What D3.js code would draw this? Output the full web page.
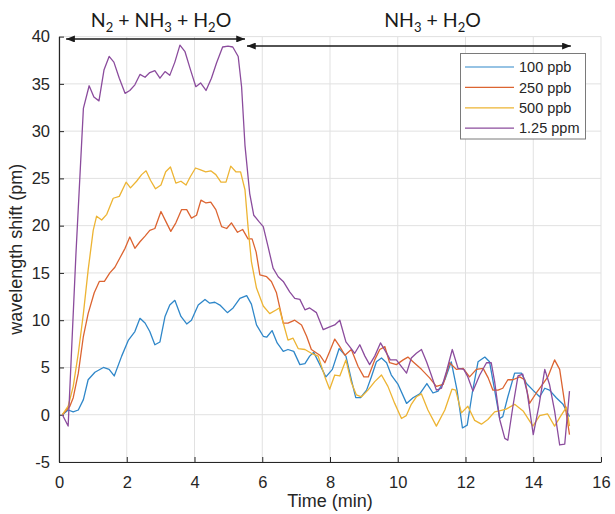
<!DOCTYPE html>
<html>
<head>
<meta charset="utf-8">
<script src="https://cdn.jsdelivr.net/npm/d3@7"></script>
<style>
  body { margin: 0; background: #fff; }
  svg { display: block; }
</style>
</head>
<body>
<svg id="chart" width="615" height="514"></svg>
<script>
  // series: [time (min), wavelength shift (pm)]
  const ppb100 = [[0.1,0],[0.27,0.5],[0.42,0.3],[0.57,0.5],[0.72,1.6],[0.86,3.7],[1.06,4.5],[1.31,5.0],[1.48,4.8],[1.63,4.1],[1.85,6.2],[2.05,7.9],[2.24,8.8],[2.39,10.2],[2.54,9.7],[2.68,8.8],[2.83,7.4],[2.98,7.7],[3.13,10.4],[3.27,11.6],[3.42,12.1],[3.6,10.4],[3.77,9.6],[3.91,10.0],[4.11,11.6],[4.31,12.2],[4.45,11.8],[4.6,11.9],[4.75,11.6],[4.97,10.8],[5.14,11.3],[5.34,12.3],[5.54,12.6],[5.68,11.7],[5.83,9.5],[6.03,8.3],[6.13,8.2],[6.29,8.9],[6.44,7.6],[6.62,6.7],[6.76,6.9],[6.93,6.7],[7.11,5.3],[7.26,5.4],[7.4,6.2],[7.52,6.6],[7.7,5.3],[7.88,4.0],[8.07,4.8],[8.27,7.0],[8.47,6.2],[8.63,3.7],[8.76,1.8],[8.9,1.8],[9.08,2.6],[9.22,4.0],[9.37,5.6],[9.52,6.0],[9.67,5.5],[9.81,4.2],[10.01,3.2],[10.26,1.2],[10.45,1.8],[10.65,2.2],[10.86,3.3],[11.04,2.3],[11.19,2.5],[11.39,3.7],[11.58,5.6],[11.75,2.6],[11.91,-1.4],[12.05,-1.1],[12.2,2.3],[12.37,5.6],[12.57,6.1],[12.71,5.6],[12.86,2.6],[13.01,-0.4],[13.1,-0.2],[13.25,1.9],[13.45,4.4],[13.65,4.4],[13.8,3.3],[13.99,2.6],[14.19,1.9],[14.34,2.8],[14.48,2.6],[14.68,1.8],[14.88,1.1],[15.07,-0.2]];

  const ppb250 = [[0.1,0],[0.32,0.9],[0.42,1.8],[0.57,4.4],[0.72,8.3],[0.86,10.7],[1.04,12.9],[1.19,14.1],[1.34,14.1],[1.5,15.0],[1.65,15.6],[1.8,16.6],[1.95,17.6],[2.09,18.8],[2.24,17.6],[2.39,18.3],[2.54,18.9],[2.68,19.5],[2.83,19.7],[3.01,21.5],[3.16,20.4],[3.3,19.4],[3.45,20.3],[3.62,21.7],[3.77,21.7],[3.91,20.8],[4.06,21.1],[4.19,22.7],[4.34,22.4],[4.48,22.5],[4.63,21.7],[4.8,19.9],[4.95,19.7],[5.09,20.3],[5.27,19.3],[5.42,19.6],[5.58,18.6],[5.7,18.6],[5.82,17.2],[5.93,14.8],[6.13,14.6],[6.27,14.1],[6.42,12.9],[6.62,9.7],[6.76,9.7],[6.96,10.0],[7.16,9.5],[7.31,8.3],[7.45,6.9],[7.7,6.3],[7.85,5.5],[7.99,6.7],[8.14,8.0],[8.29,7.2],[8.44,6.3],[8.63,6.9],[8.83,5.1],[9.0,4.0],[9.13,4.0],[9.32,5.8],[9.47,6.9],[9.62,7.2],[9.76,5.5],[9.96,5.3],[10.16,5.8],[10.3,6.1],[10.45,5.6],[10.7,4.8],[10.94,3.9],[11.14,3.0],[11.34,3.2],[11.53,5.5],[11.73,4.8],[11.93,4.9],[12.12,4.0],[12.32,4.8],[12.52,4.9],[12.67,3.9],[12.81,2.6],[12.96,2.6],[13.1,2.8],[13.25,3.7],[13.4,3.7],[13.6,4.0],[13.75,3.7],[13.89,1.2],[14.09,2.3],[14.29,3.3],[14.43,4.0],[14.63,5.8],[14.78,4.8],[14.93,1.2],[15.07,-2.1]];

  const ppb500 = [[0.1,0],[0.27,0.9],[0.42,3.0],[0.57,6.5],[0.72,10.7],[0.86,15.3],[1.01,19.5],[1.11,21.0],[1.26,20.6],[1.41,21.2],[1.6,22.9],[1.78,23.1],[1.98,24.6],[2.11,24.0],[2.29,24.7],[2.44,25.4],[2.57,25.8],[2.7,24.8],[2.85,23.9],[3.01,24.3],[3.15,25.7],[3.29,26.2],[3.45,24.5],[3.6,24.7],[3.75,24.3],[3.88,25.2],[4.03,26.1],[4.18,25.9],[4.33,25.7],[4.48,25.8],[4.63,25.4],[4.78,24.6],[4.93,24.6],[5.07,26.3],[5.22,25.7],[5.36,25.7],[5.49,23.8],[5.58,19.9],[5.68,16.2],[5.83,13.4],[6.03,11.5],[6.22,10.7],[6.42,11.1],[6.5,11.3],[6.62,9.7],[6.76,7.9],[6.91,8.1],[7.06,7.0],[7.26,6.9],[7.45,6.5],[7.65,6.2],[7.85,4.0],[7.99,2.7],[8.14,4.2],[8.29,4.1],[8.47,5.8],[8.63,3.4],[8.78,2.1],[8.93,1.9],[9.12,2.6],[9.32,3.5],[9.52,4.2],[9.71,3.0],[9.91,1.2],[10.11,-0.4],[10.25,-0.1],[10.4,1.1],[10.55,1.9],[10.7,2.2],[10.89,0.5],[11.14,-1.2],[11.39,0.5],[11.6,2.7],[11.71,2.6],[11.88,0.2],[12.07,0.9],[12.27,-0.6],[12.47,-1.0],[12.66,-0.5],[12.86,0.3],[13.0,0.4],[13.2,0.6],[13.45,1.1],[13.7,0.4],[13.99,-1.2],[14.19,-0.1],[14.42,0.1],[14.63,-1.2],[14.8,-0.2],[14.98,0.8],[15.07,-1.2]];

  const ppm125 = [[0.1,0],[0.27,-1.2],[0.5,17],[0.72,32.4],[0.89,34.8],[1.03,33.6],[1.18,33.2],[1.33,36.5],[1.48,37.9],[1.62,37.3],[1.78,35.6],[1.95,34.0],[2.09,34.3],[2.24,34.9],[2.39,36.0],[2.54,35.7],[2.68,36.2],[2.83,36.4],[2.98,35.6],[3.13,36.3],[3.27,35.9],[3.42,37.3],[3.57,39.1],[3.72,38.4],[3.88,36.5],[4.04,34.7],[4.18,35.1],[4.34,34.3],[4.5,35.6],[4.65,37.2],[4.83,38.9],[4.99,39.0],[5.13,38.9],[5.29,37.9],[5.39,34.7],[5.49,28.5],[5.63,23.4],[5.75,21.1],[5.91,20.4],[6.03,19.9],[6.17,17.8],[6.32,15.5],[6.47,14.6],[6.62,14.1],[6.81,13.0],[6.96,12.3],[7.11,12.2],[7.26,11.1],[7.4,11.3],[7.6,10.8],[7.8,9.0],[7.99,9.3],[8.14,9.5],[8.29,10.0],[8.47,7.7],[8.58,7.2],[8.73,6.5],[8.88,7.4],[9.03,6.2],[9.17,5.3],[9.32,6.2],[9.49,7.6],[9.64,6.7],[9.78,5.8],[9.96,5.8],[10.11,5.1],[10.26,4.4],[10.4,6.0],[10.55,6.5],[10.7,6.9],[10.85,5.6],[10.99,4.2],[11.14,2.6],[11.29,2.8],[11.44,4.6],[11.61,6.9],[11.78,4.9],[11.95,4.8],[12.07,4.0],[12.22,2.5],[12.42,4.2],[12.62,5.5],[12.76,5.5],[12.86,3.5],[13.01,-0.5],[13.16,-2.5],[13.25,-2.7],[13.4,0.9],[13.55,4.1],[13.69,4.3],[13.82,2.4],[14.0,-2.1],[14.17,1.0],[14.34,4.8],[14.48,3.2],[14.63,0.4],[14.78,-3.2],[14.93,-3.1],[15.07,2.5]];

  const seriesNames = ["100 ppb", "250 ppb", "500 ppb", "1.25 ppm"];
  const seriesData = [ppb100, ppb250, ppb500, ppm125];
  const colors = ["#2f87c9", "#dc6431", "#edb433", "#8b4c9d"];

  const xTicks = [0, 2, 4, 6, 8, 10, 12, 14, 16];
  const yTicks = [-5, 0, 5, 10, 15, 20, 25, 30, 35, 40];

  // phase annotations: text pieces as [normal, subscript], arrow span in minutes, arrow level in pm
  const phases = [
    { parts: [["N", "2"], [" + NH", "3"], [" + H", "2"], ["O", null]], from: 0.21, to: 5.49, level: 39.75, textAt: 0.94 },
    { parts: [["NH", "3"], [" + H", "2"], ["O", null]], from: 5.55, to: 15.11, level: 39.0, textAt: 9.6 }
  ];

  const svg = d3.select("#chart");
  const margin = { top: 36.6, right: 14, bottom: 52, left: 59 };
  const W = 615, H = 514;
  const w = W - margin.left - margin.right;
  const h = H - margin.top - margin.bottom;

  const x = d3.scaleLinear().domain([0, 16]).range([margin.left, margin.left + w]);
  const y = d3.scaleLinear().domain([-5, 40]).range([margin.top + h, margin.top]);

  const axisCol = "#262626";
  const font = "'Liberation Sans', Arial, Helvetica, sans-serif";

  // Grid
  svg.append("g").selectAll("line").data(xTicks).enter().append("line")
    .attr("x1", d => x(d)).attr("x2", d => x(d))
    .attr("y1", y(-5)).attr("y2", y(40))
    .attr("stroke", "#e1e1e1").attr("stroke-width", 1);
  svg.append("g").selectAll("line").data(yTicks).enter().append("line")
    .attr("x1", x(0)).attr("x2", x(16))
    .attr("y1", d => y(d)).attr("y2", d => y(d))
    .attr("stroke", "#e1e1e1").attr("stroke-width", 1);

  // Axes (plain hyphen for negatives, like the original)
  const gx = svg.append("g").attr("transform", `translate(0,${y(-5)})`)
    .call(d3.axisBottom(x).tickValues(xTicks).tickFormat(d => String(d))
      .tickSizeInner(-5).tickSizeOuter(0).tickPadding(14.5));
  const gy = svg.append("g").attr("transform", `translate(${x(0)},0)`)
    .call(d3.axisLeft(y).tickValues(yTicks).tickFormat(d => String(d))
      .tickSizeInner(-5).tickSizeOuter(0).tickPadding(9));
  [gx, gy].forEach(g => {
    g.selectAll(".domain").attr("stroke", axisCol).attr("stroke-width", 1.2);
    g.selectAll(".tick line").attr("stroke", axisCol).attr("stroke-width", 1);
    g.selectAll("text").attr("fill", axisCol).attr("font-size", 16.5).attr("font-family", font);
  });

  svg.append("text").attr("x", x(8)).attr("y", 507)
    .attr("text-anchor", "middle").attr("fill", axisCol)
    .attr("font-size", 18).attr("font-family", font).text("Time (min)");
  svg.append("text")
    .attr("transform", `translate(22,${y(17.5)}) rotate(-90)`)
    .attr("text-anchor", "middle").attr("fill", axisCol)
    .attr("font-size", 18).attr("font-family", font).text("wavelength shift (pm)");

  // Lines
  const line = d3.line().x(d => x(d[0])).y(d => y(d[1]));
  svg.append("g").selectAll("path").data(seriesData).enter().append("path")
    .attr("d", line)
    .attr("fill", "none")
    .attr("stroke", (d, i) => colors[i])
    .attr("stroke-width", 1.3)
    .attr("stroke-linejoin", "round");

  // Phase arrows
  const defs = svg.append("defs");
  defs.append("marker").attr("id", "ahead")
    .attr("viewBox", "0 0 10 8").attr("refX", 10).attr("refY", 4)
    .attr("markerWidth", 9).attr("markerHeight", 7)
    .attr("markerUnits", "userSpaceOnUse").attr("orient", "auto-start-reverse")
    .append("path").attr("d", "M0,0 L10,4 L0,8 Z").attr("fill", "#1a1a1a");

  svg.append("g").selectAll("line").data(phases).enter().append("line")
    .attr("x1", d => x(d.from)).attr("x2", d => x(d.to))
    .attr("y1", d => y(d.level)).attr("y2", d => y(d.level))
    .attr("stroke", "#1a1a1a").attr("stroke-width", 1.4)
    .attr("marker-start", "url(#ahead)").attr("marker-end", "url(#ahead)");

  phases.forEach(p => {
    const t = svg.append("text").attr("x", x(p.textAt)).attr("y", y(41))
      .attr("fill", "#1a1a1a").attr("font-size", 19.5).attr("font-family", "Lato, 'Open Sans', sans-serif");
    let shifted = false;
    p.parts.forEach(([main, sub]) => {
      t.append("tspan").attr("dy", shifted ? -5 : 0).text(main);
      shifted = false;
      if (sub) {
        t.append("tspan").attr("dy", 5).attr("font-size", 13).text(sub);
        shifted = true;
      }
    });
  });

  // Legend
  const lg = svg.append("g").attr("transform", "translate(460.5,53.5)");
  lg.append("rect").attr("width", 125).attr("height", 85.5)
    .attr("fill", "#fff").attr("stroke", "#7a7a7a").attr("stroke-width", 1);
  const rows = lg.selectAll(".row").data(seriesNames).enter().append("g")
    .attr("transform", (d, i) => `translate(0,${13.5 + i * 20.4})`);
  rows.append("line").attr("x1", 4.5).attr("x2", 53.5)
    .attr("stroke", (d, i) => colors[i]).attr("stroke-width", 1.2);
  rows.append("text").attr("x", 58.5).attr("dy", "0.36em")
    .attr("fill", axisCol).attr("font-size", 14.5).attr("font-family", font)
    .text(d => d);
</script>
</body>
</html>
